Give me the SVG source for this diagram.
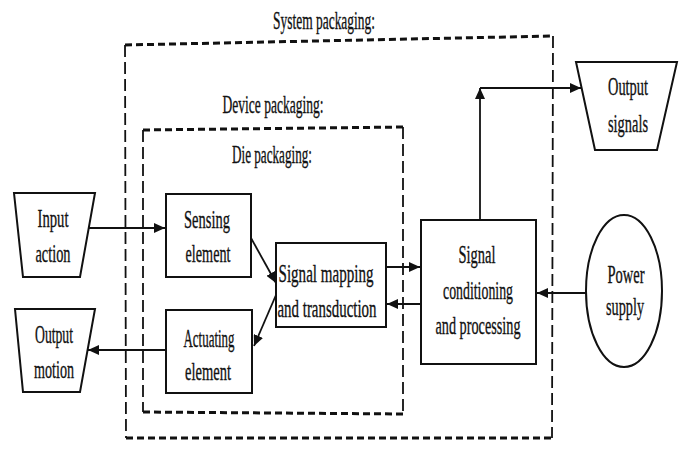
<svg xmlns="http://www.w3.org/2000/svg" width="691" height="468" viewBox="0 0 691 468">
<style>
.t{font-family:"Liberation Serif","Times New Roman",serif;font-size:26px;fill:#111;stroke:#111;stroke-width:0.35;text-anchor:middle}
.box{fill:#fff;stroke:#111;stroke-width:2}
.dh{fill:none;stroke:#111;stroke-width:3;stroke-dasharray:7 4}
.dv{fill:none;stroke:#111;stroke-width:1.8;stroke-dasharray:12 5}
.ca{fill:none;stroke:#111;stroke-width:1.8;marker-end:url(#ah)}
</style>
<defs>
<marker id="ah" markerUnits="userSpaceOnUse" markerWidth="12" markerHeight="10" refX="11" refY="5" orient="auto">
<path d="M0,0 L11,5 L0,10 z" fill="#111"/>
</marker>
</defs>
<rect width="691" height="468" fill="#fff"/>
<g id="system-packaging">
<path class="dh" d="M125,45 L553,36"/>
<path class="dh" d="M126,438 L552,438"/>
<path class="dv" d="M125,45 L126,438"/>
<path class="dv" d="M553,36 L552,438"/>
<text class="t" x="324" y="29" textLength="102" lengthAdjust="spacingAndGlyphs">System packaging:</text>
</g>
<g id="device-packaging">
<path class="dh" d="M143,130 L403,127"/>
<path class="dh" d="M143,412 L403,414"/>
<path class="dv" d="M143,130 L143,412"/>
<path class="dv" d="M403,127 L403,414"/>
<text class="t" x="273" y="113" textLength="101" lengthAdjust="spacingAndGlyphs">Device packaging:</text>
<text class="t" x="272" y="163" textLength="80" lengthAdjust="spacingAndGlyphs">Die packaging:</text>
</g>
<g id="connectors">
<path class="ca" d="M89,228 L165,228"/>
<path class="ca" d="M251,238 L276,283"/>
<path class="ca" d="M276,295 L254,346"/>
<path class="ca" d="M386,267 L420,267"/>
<path class="ca" d="M420,304 L387,304"/>
<path class="ca" d="M480,220 L480,88"/>
<path class="ca" d="M480,88 L581,88"/>
<path class="ca" d="M586,293 L537,293"/>
<path class="ca" d="M166,350 L88,350"/>
</g>
<g id="input-action">
<polygon class="box" points="14,193 95,193 80,277 23,277"/>
<text class="t" x="53" y="227" textLength="31" lengthAdjust="spacingAndGlyphs">Input</text>
<text class="t" x="53" y="262" textLength="35" lengthAdjust="spacingAndGlyphs">action</text>
</g>
<g id="output-motion">
<polygon class="box" points="15,309 95,309 80,392 23,392"/>
<text class="t" x="54" y="343" textLength="38" lengthAdjust="spacingAndGlyphs">Output</text>
<text class="t" x="54" y="378" textLength="40" lengthAdjust="spacingAndGlyphs">motion</text>
</g>
<g id="sensing-element">
<rect class="box" x="166" y="194" width="85" height="83"/>
<text class="t" x="207" y="228" textLength="46" lengthAdjust="spacingAndGlyphs">Sensing</text>
<text class="t" x="208" y="262" textLength="45" lengthAdjust="spacingAndGlyphs">element</text>
</g>
<g id="actuating-element">
<rect class="box" x="166" y="310" width="86" height="83"/>
<text class="t" x="209" y="347" textLength="51" lengthAdjust="spacingAndGlyphs">Actuating</text>
<text class="t" x="208" y="380" textLength="46" lengthAdjust="spacingAndGlyphs">element</text>
</g>
<g id="signal-mapping">
<rect class="box" x="276" y="243" width="110" height="84"/>
<text class="t" x="326" y="282" textLength="95" lengthAdjust="spacingAndGlyphs">Signal mapping</text>
<text class="t" x="327" y="317" textLength="99" lengthAdjust="spacingAndGlyphs">and transduction</text>
</g>
<g id="signal-conditioning">
<rect class="box" x="421" y="220" width="115" height="144"/>
<text class="t" x="477" y="263" textLength="37" lengthAdjust="spacingAndGlyphs">Signal</text>
<text class="t" x="478" y="299" textLength="70" lengthAdjust="spacingAndGlyphs">conditioning</text>
<text class="t" x="478" y="334" textLength="85" lengthAdjust="spacingAndGlyphs">and processing</text>
</g>
<g id="power-supply">
<ellipse class="box" cx="624" cy="291" rx="38" ry="76"/>
<text class="t" x="626" y="283" textLength="37" lengthAdjust="spacingAndGlyphs">Power</text>
<text class="t" x="625" y="315" textLength="38" lengthAdjust="spacingAndGlyphs">supply</text>
</g>
<g id="output-signals">
<polygon class="box" points="576,62 677,62 657,150 595,150"/>
<text class="t" x="628" y="95" textLength="40" lengthAdjust="spacingAndGlyphs">Output</text>
<text class="t" x="628" y="132" textLength="40" lengthAdjust="spacingAndGlyphs">signals</text>
</g>
</svg>
